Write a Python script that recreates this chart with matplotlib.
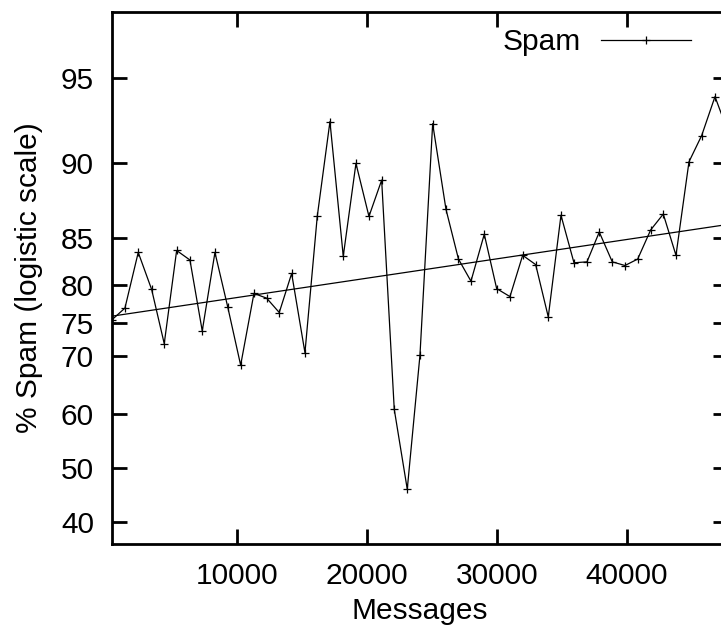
import matplotlib
matplotlib.use("Agg")
import matplotlib.pyplot as plt
from matplotlib.ticker import FixedLocator, NullLocator, FixedFormatter

plt.rcParams['font.family'] = ['Liberation Sans', 'DejaVu Sans']

# Data (messages processed, % spam)
msgs = [390, 1385, 2408, 3438, 4408, 5362, 6385, 7331, 8308, 9285,
        10285, 11308, 12285, 13254, 14208, 15231, 16177, 17154, 18177, 19154,
        20154, 21131, 22100, 23100, 24077, 25054, 26077, 27038, 28000, 29023,
        29977, 31000, 31977, 32977, 33946, 34923, 35923, 36923, 37869, 38869,
        39846, 40823, 41823, 42792, 43769, 44769, 45746, 46769, 47770]
spam_pct = [75.4, 77.0, 83.6, 79.4, 71.9, 83.8, 82.8, 73.8, 83.6, 77.2,
            68.5, 78.9, 78.3, 76.4, 81.3, 70.5, 87.0, 93.2, 83.2, 90.9,
            87.0, 89.8, 60.9, 46.0, 70.1, 93.1, 87.6, 82.9, 80.4, 85.4,
            79.5, 78.5, 83.3, 82.3, 75.8, 87.1, 82.5, 82.6, 85.6, 82.6,
            82.2, 82.9, 85.8, 87.2, 83.3, 91.0, 92.5, 94.3, 92.7]

# Fitted trend (straight in logistic space)
trend_x = [390, 47770]
trend_pct = [75.9, 86.3]

x_ticks = [10000, 20000, 30000, 40000]
y_tick_labels = ["40", "50", "60", "70", "75", "80", "85", "90", "95"]
y_tick_pos = [0.40, 0.50, 0.60, 0.70, 0.75, 0.80, 0.85, 10 / 11, 0.95]

W, H = 721, 637
FS = 21.5
fig = plt.figure(figsize=(W / 100, H / 100), dpi=100)
ax = fig.add_axes([112 / W, (H - 544) / H, 616 / W, 532 / H])

ax.set_yscale('logit')
ax.plot(msgs, [v / 100 for v in spam_pct], color='black', lw=0.9,
        marker='+', markersize=6, markeredgewidth=0.9, label='Spam')
ax.plot(trend_x, [v / 100 for v in trend_pct], color='black', lw=0.9)

ax.set_xlim(msgs[0], msgs[-1])
ax.set_ylim(0.3602, 0.9691)

ax.xaxis.set_major_locator(FixedLocator(x_ticks))
ax.xaxis.set_minor_locator(NullLocator())
ax.yaxis.set_major_locator(FixedLocator(y_tick_pos))
ax.yaxis.set_major_formatter(FixedFormatter(y_tick_labels))
ax.yaxis.set_minor_locator(NullLocator())

for s in ax.spines.values():
    s.set_linewidth(2.0)
ax.tick_params(axis='both', which='major', direction='in', length=10.5,
               width=2.0, labelsize=FS, pad=13, top=True, right=True)

ax.set_xlabel('Messages', fontsize=FS, labelpad=5)
ax.set_ylabel('% Spam (logistic scale)', fontsize=FS, labelpad=13)

fig.legend(loc='center right', bbox_to_anchor=(691 / W, (H - 42) / H),
           frameon=False, markerfirst=False, fontsize=FS, borderpad=0,
           borderaxespad=0, handlelength=3.0, handletextpad=0.7, numpoints=1)

fig.savefig('out.png', dpi=100)
